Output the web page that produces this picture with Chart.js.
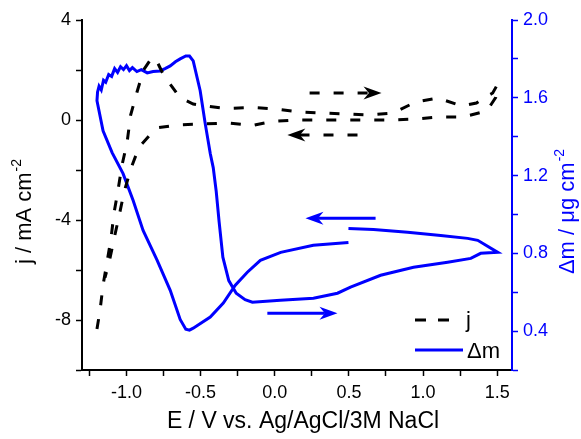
<!DOCTYPE html>
<html>
<head>
<meta charset="utf-8">
<script src="https://cdn.jsdelivr.net/npm/chart.js@4.4.0/dist/chart.umd.min.js"></script>
<style>
  html, body { margin: 0; padding: 0; background: #fff; }
  #wrap { width: 581px; height: 439px; }
</style>
</head>
<body>
<div id="wrap"><canvas id="cv"></canvas></div>
<script>
// Current density j (mA cm-2) against potential, one full cycle
const jPotential = [
    -1.199, -1.178, -1.158, -1.131, -1.104, -1.084, -1.057, -1.030, -0.996, -0.972,
    -0.930, -0.885, -0.840, -0.807, -0.750, -0.640, -0.550, -0.470, -0.320, -0.150,
    0.000, 0.170, 0.320, 0.490, 0.620, 0.800, 0.950, 1.100, 1.260, 1.360,
    1.410, 1.470, 1.500,
    1.490, 1.430, 1.270, 1.100, 0.950, 0.780, 0.620, 0.490, 0.320, 0.140,
    -0.020, -0.150, -0.320, -0.490, -0.660, -0.800, -0.915, -0.969, -1.016, -1.050,
    -1.084, -1.118, -1.145
];
const jCurrent = [
    -8.36, -7.60, -6.60, -5.68, -4.72, -3.72, -2.80, -1.80, -0.90, 0.20,
    1.10, 2.00, 2.40, 2.50, 1.80, 0.90, 0.64, 0.56, 0.46, 0.50,
    0.44, 0.32, 0.28, 0.24, 0.20, 0.28, 0.72, 0.88, 0.56, 0.68,
    0.88, 1.08, 1.40,
    0.90, 0.36, 0.12, 0.12, 0.04, 0.00, 0.00, 0.00, 0.00, 0.00,
    -0.06, -0.22, -0.12, -0.16, -0.20, -0.32, -1.08, -1.92, -2.88, -3.84,
    -4.76, -5.72, -6.30
];

// Mass change (ug cm-2) against potential
const mPotential = [
    0.497, 0.260, 0.040, -0.097, -0.185, -0.266, -0.347, -0.435, -0.550, -0.575,
    -0.600, -0.638, -0.705, -0.793, -0.888, -0.955, -1.023, -1.097, -1.158, -1.199,
    -1.195, -1.185, -1.170, -1.155, -1.140, -1.120, -1.100, -1.080, -1.060, -1.040,
    -1.020, -1.000, -0.980, -0.960, -0.930, -0.900, -0.860, -0.820, -0.773, -0.740,
    -0.705, -0.670, -0.638, -0.600, -0.575, -0.550, -0.503, -0.469, -0.435, -0.415,
    -0.395, -0.375, -0.350, -0.310, -0.260, -0.200, -0.151, 0.038, 0.261, 0.423, 0.511,
    0.714, 0.936, 1.166, 1.322, 1.389, 1.504,
    1.369, 1.301, 1.119, 0.896, 0.666, 0.497
];
const mMass = [
    0.856, 0.841, 0.805, 0.764, 0.703, 0.636, 0.544, 0.472, 0.415, 0.405,
    0.410, 0.460, 0.610, 0.764, 0.918, 1.072, 1.210, 1.318, 1.430, 1.585,
    1.630, 1.660, 1.640, 1.690, 1.680, 1.720, 1.710, 1.750, 1.730, 1.760,
    1.745, 1.765, 1.740, 1.755, 1.735, 1.745, 1.728, 1.735, 1.738, 1.750,
    1.764, 1.785, 1.800, 1.815, 1.815, 1.790, 1.636, 1.467, 1.313, 1.241,
    1.120, 0.960, 0.780, 0.660, 0.595, 0.562, 0.549, 0.559, 0.569, 0.595, 0.626,
    0.687, 0.728, 0.754, 0.774, 0.800, 0.805,
    0.867, 0.877, 0.892, 0.908, 0.923, 0.928
];

// Scan direction arrows: [xFrom, yFrom, xTo, yTo] in data units
const jArrows = [[0.235, 1.08, 0.72, 1.08], [0.558, -0.6, 0.085, -0.6]];
const mArrows = [[0.68, 0.98, 0.207, 0.98], [-0.05, 0.492, 0.423, 0.492]];

const BLUE = '#0000ff';
const FONT = "'Liberation Sans', Arial, sans-serif";

function toPoints(xs, ys) {
    return xs.map((x, i) => ({ x: x, y: ys[i] }));
}

function drawArrow(ctx, x1, y1, x2, y2, color, dash) {
    const len = Math.hypot(x2 - x1, y2 - y1);
    const dx = (x2 - x1) / len, dy = (y2 - y1) / len;
    const head = 18, half = 6.5;
    ctx.save();
    ctx.strokeStyle = color;
    ctx.fillStyle = color;
    ctx.lineWidth = 3;
    ctx.setLineDash(dash || []);
    ctx.beginPath();
    ctx.moveTo(x1, y1);
    ctx.lineTo(x2 - dx * head * 0.7, y2 - dy * head * 0.7);
    ctx.stroke();
    ctx.setLineDash([]);
    ctx.beginPath();
    ctx.moveTo(x2, y2);
    ctx.lineTo(x2 - dx * head - dy * half, y2 - dy * head + dx * half);
    ctx.lineTo(x2 - dx * head * 0.7, y2 - dy * head * 0.7);
    ctx.lineTo(x2 - dx * head + dy * half, y2 - dy * head - dx * half);
    ctx.closePath();
    ctx.fill();
    ctx.restore();
}

// text with a "-2" superscript, centred on (cx, cy)
function drawTitle(ctx, text, sup, cx, cy, rotation, color, size) {
    ctx.save();
    ctx.translate(cx, cy);
    ctx.rotate(rotation);
    ctx.fillStyle = color;
    ctx.textBaseline = 'alphabetic';
    ctx.textAlign = 'left';
    ctx.font = size + 'px ' + FONT;
    const w1 = ctx.measureText(text).width;
    ctx.font = '14px ' + FONT;
    const w2 = sup ? ctx.measureText(sup).width : 0;
    const x0 = -(w1 + w2) / 2;
    ctx.font = size + 'px ' + FONT;
    ctx.fillText(text, x0, 8);
    if (sup) {
        ctx.font = '14px ' + FONT;
        ctx.fillText(sup, x0 + w1 + 1, -2);
    }
    ctx.restore();
}

const overlay = {
    id: 'overlay',
    afterDatasetsDraw(chart) {
        const ctx = chart.ctx;
        const x = chart.scales.x, yj = chart.scales.y, ym = chart.scales.y2;
        jArrows.forEach(a => drawArrow(ctx,
            x.getPixelForValue(a[0]), yj.getPixelForValue(a[1]),
            x.getPixelForValue(a[2]), yj.getPixelForValue(a[3]), '#000', [10, 14]));
        mArrows.forEach(a => drawArrow(ctx,
            x.getPixelForValue(a[0]), ym.getPixelForValue(a[1]),
            x.getPixelForValue(a[2]), ym.getPixelForValue(a[3]), BLUE));

        // legend, bottom right corner of the plot
        const area = chart.chartArea;
        const lx = area.right - 97, ly1 = area.bottom - 50, ly2 = area.bottom - 20;
        ctx.save();
        ctx.lineWidth = 3;
        ctx.strokeStyle = '#000';
        ctx.setLineDash([11, 12]);
        ctx.beginPath();
        ctx.moveTo(lx, ly1);
        ctx.lineTo(lx + 35, ly1);
        ctx.stroke();
        ctx.setLineDash([]);
        ctx.strokeStyle = BLUE;
        ctx.beginPath();
        ctx.moveTo(lx, ly2);
        ctx.lineTo(lx + 48, ly2);
        ctx.stroke();
        ctx.fillStyle = '#000';
        ctx.font = '22px ' + FONT;
        ctx.textBaseline = 'middle';
        ctx.fillText('j', lx + 51, ly1 + 1);
        ctx.fillText('\u0394m', lx + 52, ly2 + 2);
        ctx.restore();
    },
    afterDraw(chart) {
        const ctx = chart.ctx;
        drawTitle(ctx, 'E / V vs. Ag/AgCl/3M NaCl', '', 303, 420, 0, '#000', 23);
        drawTitle(ctx, 'j / mA cm', '-2', 23, 212, -Math.PI / 2, '#000', 22);
        drawTitle(ctx, '\u0394m / \u03bcg cm', '-2', 566, 212, -Math.PI / 2, BLUE, 22);
    }
};

new Chart(document.getElementById('cv'), {
    type: 'scatter',
    data: {
        datasets: [{
            label: 'j',
            data: toPoints(jPotential, jCurrent),
            yAxisID: 'y',
            showLine: true,
            borderColor: '#000',
            borderWidth: 3,
            borderDash: [10, 14],
            pointRadius: 0,
            tension: 0
        }, {
            label: '\u0394m',
            data: toPoints(mPotential, mMass),
            yAxisID: 'y2',
            showLine: true,
            borderColor: BLUE,
            borderWidth: 3,
            pointRadius: 0,
            tension: 0
        }]
    },
    options: {
        responsive: true,
        maintainAspectRatio: false,
        animation: false,
        layout: { padding: { top: 20, left: 0, right: 0, bottom: 0 } },
        plugins: {
            legend: { display: false },
            tooltip: { enabled: false }
        },
        scales: {
            x: {
                type: 'linear',
                min: -1.3,
                max: 1.6,
                border: { color: '#000', width: 2 },
                grid: { drawOnChartArea: false, tickLength: 6, tickColor: '#000', tickWidth: 1.5 },
                ticks: {
                    stepSize: 0.25,
                    includeBounds: false,
                    color: '#000',
                    padding: 6,
                    font: { size: 18, family: FONT },
                    maxRotation: 0,
                    autoSkip: false,
                    callback: v => Math.abs(v / 0.5 - Math.round(v / 0.5)) < 1e-6 ? v.toFixed(1) : ''
                },
                afterFit: s => { s.height = 69; }
            },
            y: {
                type: 'linear',
                position: 'left',
                min: -10,
                max: 4,
                border: { color: '#000', width: 2 },
                grid: { drawOnChartArea: false, tickLength: 6, tickColor: '#000', tickWidth: 1.5 },
                ticks: {
                    stepSize: 2,
                    color: '#000',
                    padding: 5,
                    font: { size: 18, family: FONT },
                    autoSkip: false,
                    callback: v => v % 4 === 0 ? String(v) : ''
                },
                afterFit: s => { s.width = 82; }
            },
            y2: {
                type: 'linear',
                position: 'right',
                min: 0.2,
                max: 2.0,
                border: { color: BLUE, width: 2 },
                grid: { drawOnChartArea: false, tickLength: 6, tickColor: BLUE, tickWidth: 1.5 },
                ticks: {
                    stepSize: 0.2,
                    includeBounds: false,
                    color: BLUE,
                    padding: 5,
                    font: { size: 18, family: FONT },
                    autoSkip: false,
                    callback: v => Math.abs(v / 0.4 - Math.round(v / 0.4)) < 1e-6 ? v.toFixed(1) : ''
                },
                afterFit: s => { s.width = 69; }
            }
        }
    },
    plugins: [overlay]
});
</script>
</body>
</html>
